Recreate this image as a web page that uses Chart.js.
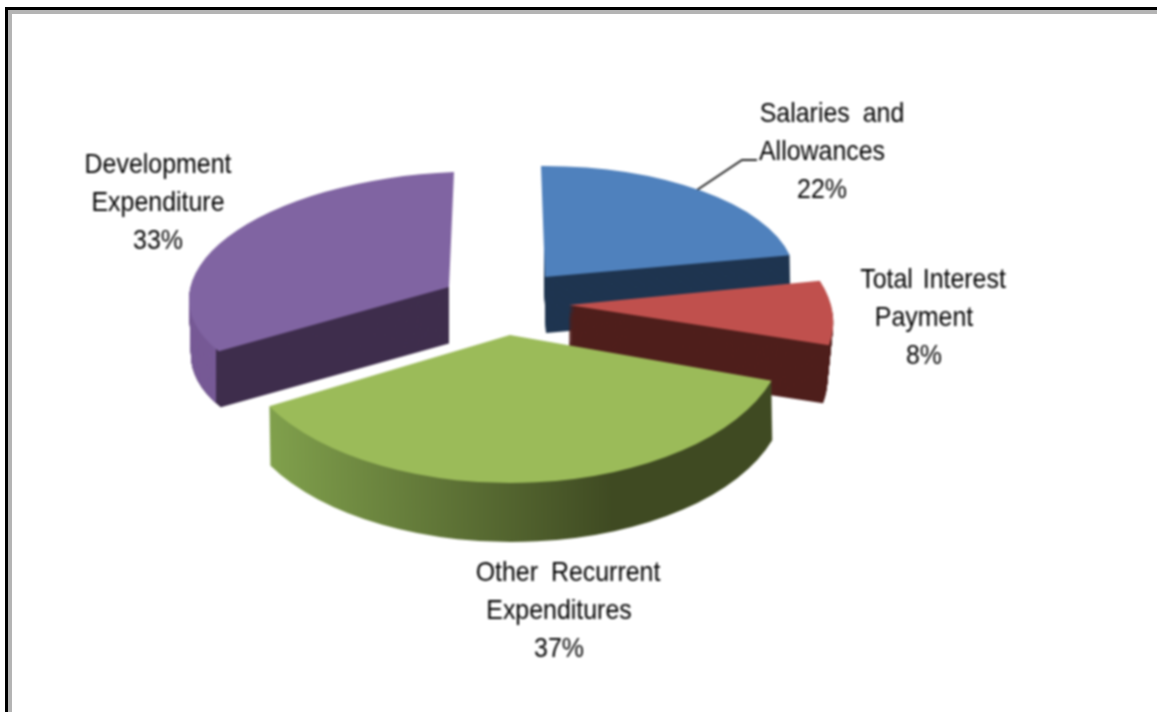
<!DOCTYPE html>
<html>
<head>
<meta charset="utf-8">
<style>
  html, body { margin: 0; padding: 0; background: #fff; overflow: hidden; }
  #wrap { position: relative; width: 1157px; height: 712px; }
  #chart { position: absolute; left: 0; top: 0; filter: blur(0.8px); }
  /* black and grey rule of the screenshot, top and left only */
  #frameOuter { position: absolute; left: 5px; top: 7px; right: 0; bottom: 0; border-left: 3px solid #000; border-top: 3px solid #000; }
  #frameInner { position: absolute; left: 0; top: 0; right: 0; bottom: 0; border-left: 4px solid #b4b4b4; border-top: 4px solid #b4b4b4; }
</style>
</head>
<body>
<div id="wrap">
  <canvas id="chart" width="1157" height="712"></canvas>
  <div id="frameOuter"><div id="frameInner"></div></div>
</div>
<script src="https://cdn.jsdelivr.net/npm/chart.js@4"></script>
<script>
// data
const categories = ['Salaries and Allowances', 'Total Interest Payment', 'Other Recurrent Expenditures', 'Development Expenditure'];
const shares = [22, 8, 37, 33];
const topColors = ['#4f81bd', '#c0504d', '#9bbb59', '#8064a2'];
const wallColors = ['#1f3550', '#4f1f1c', '#3f4a22', '#3f2e4d'];

// the label lines as they wrap in the picture
const labelLines = [
  ['Salaries and', 'Allowances'],
  ['Total Interest', 'Payment'],
  ['Other Recurrent', 'Expenditures'],
  ['Development', 'Expenditure']
];
const labelCenters = [[822, 114], [924, 280], [559, 573], [158, 165]]; // x of the lower lines, y of the first
const firstLineShift = [10, 9, 9, 0];
const wordGaps = [6, 3, 6, 0];

// 3d view of each slice: apex, the two ellipse axes and the depth of the wall
const apexes = [[545, 277], [569, 305], [510, 335], [449, 287]];
const axisU = [[250, -1], [262, 0], [275, 0], [260, -10]];
const axisV = [[-4, -111], [-35, -130], [0, -148], [5, -115]];
const depths = [[1, 56], [-6, 58], [1, 59], [2, 56]];
const wallRange = [[544, 1157], [569, 1157], [0, 1157], [0, 449]]; // x range the wall may show in
const drawOrder = [3, 0, 1, 2]; // back to front

const TEXT_STRETCH = 0.89; // text in the picture is narrow for its height

function sliceTransform(ctx, arc, i) {
  const R = arc.outerRadius;
  const a = axisU[i][0] / R, b = axisU[i][1] / R;
  const c = -axisV[i][0] / R, d = -axisV[i][1] / R;
  ctx.transform(a, b, c, d,
    apexes[i][0] - a * arc.x - c * arc.y,
    apexes[i][1] - b * arc.x - d * arc.y);
}

function drawArcWith(ctx, arc, fill) {
  const keep = arc.options;
  arc.options = Object.create(keep, { backgroundColor: { value: fill } });
  arc.draw(ctx);
  arc.options = keep;
}

// wall colour of a slice, green fades along x
function wallFill(ctx, arc, i) {
  if (i !== 2) return wallColors[i];
  const R = arc.outerRadius;
  const toUser = x => arc.x + (x - apexes[i][0]) * R / axisU[i][0];
  const g = ctx.createLinearGradient(toUser(270), 0, toUser(612), 0);
  g.addColorStop(0, '#80a04c');
  g.addColorStop(1, wallColors[i]);
  return g;
}

function drawWall(ctx, arc, i, fill, x0, x1) {
  const steps = Math.ceil(Math.abs(depths[i][1]));
  ctx.save();
  ctx.beginPath();
  ctx.rect(x0, 0, x1 - x0, 712);
  ctx.clip();
  for (let s = steps; s >= 1; s--) {
    ctx.save();
    ctx.translate(depths[i][0] * s / steps, depths[i][1] * s / steps);
    sliceTransform(ctx, arc, i);
    drawArcWith(ctx, arc, fill);
    ctx.restore();
  }
  ctx.restore();
}

const pie3d = {
  id: 'pie3d',
  beforeDatasetsDraw(chart) {
    const ctx = chart.ctx;
    const arcs = chart.getDatasetMeta(0).data;

    // leader line of the first label
    ctx.save();
    ctx.strokeStyle = '#222';
    ctx.lineWidth = 2;
    ctx.beginPath();
    ctx.moveTo(697, 190);
    ctx.lineTo(742, 160);
    ctx.lineTo(757, 160);
    ctx.stroke();
    ctx.restore();

    for (const i of drawOrder) {
      const arc = arcs[i];
      ctx.save();
      sliceTransform(ctx, arc, i);
      const fill = wallFill(ctx, arc, i);
      ctx.restore();
      drawWall(ctx, arc, i, fill, wallRange[i][0], wallRange[i][1]);
      // purple outer rim left of the front corner
      if (i === 3) drawWall(ctx, arc, i, '#775a96', 0, 216);
      ctx.save();
      sliceTransform(ctx, arc, i);
      drawArcWith(ctx, arc, topColors[i]);
      ctx.restore();
    }
    return false; // slices are done, skip the flat pie
  },
  afterDraw(chart) {
    const ctx = chart.ctx;
    ctx.save();
    ctx.fillStyle = '#000';
    ctx.font = '28px "Liberation Sans"';
    ctx.textAlign = 'center';
    ctx.textBaseline = 'middle';
    ctx.scale(TEXT_STRETCH, 1);
    labelLines.forEach((lines, i) => {
      ctx.wordSpacing = (wordGaps[i] / TEXT_STRETCH) + 'px';
      const all = lines.concat(shares[i] + '%');
      all.forEach((line, n) => {
        const x = labelCenters[i][0] + (n === 0 ? firstLineShift[i] : 0);
        ctx.fillText(line, x / TEXT_STRETCH, labelCenters[i][1] + n * 38.3);
      });
    });
    ctx.restore();
  }
};

new Chart(document.getElementById('chart').getContext('2d'), {
  type: 'pie',
  data: {
    labels: categories,
    datasets: [{
      data: shares,
      backgroundColor: topColors,
      borderWidth: 0
    }]
  },
  options: {
    responsive: false,
    animation: false,
    plugins: {
      legend: { display: false },
      tooltip: { enabled: false }
    }
  },
  plugins: [pie3d]
});
</script>
</body>
</html>
